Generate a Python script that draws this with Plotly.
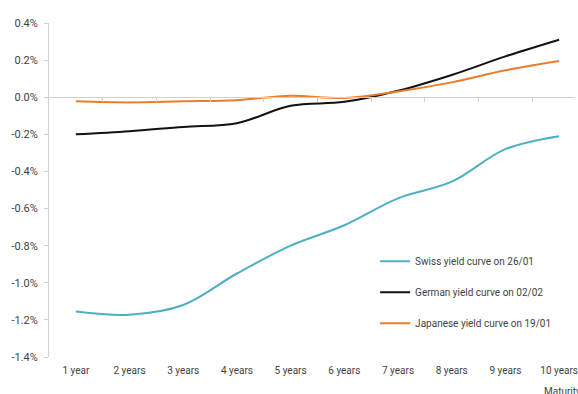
import plotly.graph_objects as go

maturities = ["1 year", "2 years", "3 years", "4 years", "5 years",
              "6 years", "7 years", "8 years", "9 years", "10 years"]

swiss_26_01 = [-1.155, -1.172, -1.12, -0.95, -0.80, -0.69, -0.545, -0.455, -0.28, -0.21]
german_02_02 = [-0.20, -0.183, -0.16, -0.14, -0.046, -0.025, 0.035, 0.12, 0.22, 0.31]
japanese_19_01 = [-0.022, -0.028, -0.022, -0.016, 0.008, -0.004, 0.031, 0.08, 0.145, 0.195]

y_ticks = [0.4, 0.2, 0.0, -0.2, -0.4, -0.6, -0.8, -1.0, -1.2, -1.4]
y_tick_text = [f"{v:.1f}%" for v in y_ticks]

FONT = "Roboto"
TEXT_COLOR = "#3f3f3f"
AXIS_GREY = "#d0d0d0"

series = [
    ("Swiss yield curve on 26/01", swiss_26_01, "#4eafc4"),
    ("German yield curve on 02/02", german_02_02, "#111111"),
    ("Japanese yield curve on 19/01", japanese_19_01, "#ea7d2c"),
]

fig = go.Figure()
for i, (name, values, color) in enumerate(series):
    fig.add_trace(go.Scatter(
        x=maturities, y=values, name=name, mode="lines",
        line=dict(color=color, width=2, shape="spline", smoothing=1.0),
        legendgroup=f"g{i}",
    ))

x_range = [-0.5, 9.296]
zero_pos = (0 - (-1.4)) / (0.4 - (-1.4))

fig.update_layout(
    width=578, height=394,
    margin=dict(l=49, r=0, t=23, b=37),
    paper_bgcolor="white", plot_bgcolor="white",
    font=dict(family=FONT, size=10, color=TEXT_COLOR),
    showlegend=True,
    legend=dict(
        x=0.62, y=0.33, xanchor="left", yanchor="top",
        traceorder="grouped", tracegroupgap=12,
        font=dict(family=FONT, size=10, color=TEXT_COLOR),
        bgcolor="rgba(0,0,0,0)", itemwidth=30,
    ),
    xaxis=dict(
        type="category", range=x_range,
        showline=False, showgrid=False, zeroline=False,
        ticks="", ticklabelstandoff=6,
        tickfont=dict(family=FONT, size=10, color=TEXT_COLOR),
    ),
    xaxis2=dict(
        overlaying="x", anchor="free", position=zero_pos * 1.0,
        range=x_range, showline=True, linecolor=AXIS_GREY, linewidth=1,
        showgrid=False, zeroline=False,
        tickmode="array", tickvals=[0.5 + k for k in range(9)],
        ticks="outside", ticklen=4, tickcolor=AXIS_GREY,
        showticklabels=False, side="bottom",
    ),
    yaxis=dict(
        range=[-1.4, 0.4], tickmode="array", tickvals=y_ticks, ticktext=y_tick_text,
        showline=True, linecolor=AXIS_GREY, linewidth=1,
        ticks="outside", ticklen=4, tickcolor=AXIS_GREY,
        showgrid=False, zeroline=False,
        tickfont=dict(family=FONT, size=11, color=TEXT_COLOR),
        ticklabelstandoff=4,
    ),
    annotations=[dict(
        text="Maturity", xref="paper", yref="paper",
        x=0.9376, y=-0.081, xanchor="left", yanchor="top",
        showarrow=False, font=dict(family=FONT, size=10, color=TEXT_COLOR),
    )],
)

# invisible trace binding the zero-line axis
fig.add_trace(go.Scatter(x=[0], y=[0], xaxis="x2", mode="markers",
                         marker=dict(opacity=0), showlegend=False, hoverinfo="skip"))

fig.write_html("out.html")
